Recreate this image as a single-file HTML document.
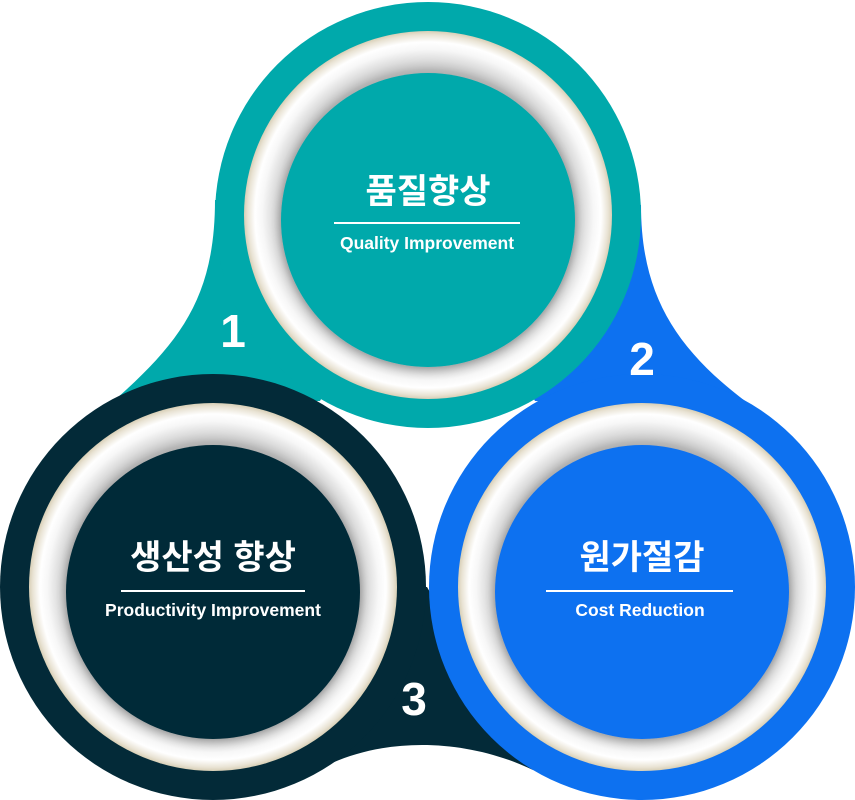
<!DOCTYPE html>
<html><head><meta charset="utf-8"><style>
html,body{margin:0;padding:0;background:#fff;}
svg{display:block;}
text{font-family:"Liberation Sans","Noto Sans CJK KR",sans-serif;fill:#fff;font-weight:bold;text-anchor:middle;}
</style></head><body>
<svg width="855" height="800" viewBox="0 0 855 800" xmlns="http://www.w3.org/2000/svg">
<defs>
<radialGradient id="ring" cx="0.5" cy="0.5" r="0.5">
<stop offset="0" stop-color="#bdbdbd"/>
<stop offset="0.79" stop-color="#bdbdbd"/>
<stop offset="0.84" stop-color="#dcdcdc"/>
<stop offset="0.9" stop-color="#f7f7f7"/>
<stop offset="0.94" stop-color="#ffffff"/>
<stop offset="0.98" stop-color="#e9e3d4"/>
<stop offset="1" stop-color="#d8cfb6"/>
</radialGradient>
<filter id="sh" x="-20%" y="-20%" width="140%" height="140%">
<feGaussianBlur in="SourceAlpha" stdDeviation="5"/>
<feOffset dy="3"/>
<feComponentTransfer><feFuncA type="linear" slope="0.3"/></feComponentTransfer>
<feMerge><feMergeNode/><feMergeNode in="SourceGraphic"/></feMerge>
</filter>
</defs>
<path d="M215,200 C215,300 178,345 108,406 L320,401 L428,215 Z" fill="#00a9ab"/>
<path d="M641,205 C641,300 680,355 760,412 L535,401 L428,215 Z" fill="#0d71f0"/>
<path d="M300,781 C365,735 460,735 533,770 L427,587 L213,587 Z" fill="#032a38"/>
<circle cx="428" cy="215" r="213" fill="#00a9ab"/>
<circle cx="642" cy="587" r="213" fill="#0d71f0"/>
<circle cx="213" cy="587" r="213" fill="#032a38"/>
<circle cx="428" cy="215" r="184" fill="url(#ring)"/>
<circle cx="428" cy="220" r="147" fill="#00a9ab" filter="url(#sh)"/>
<circle cx="642" cy="587" r="184" fill="url(#ring)"/>
<circle cx="642" cy="592" r="147" fill="#0d71f0" filter="url(#sh)"/>
<circle cx="213" cy="587" r="184" fill="url(#ring)"/>
<circle cx="213" cy="592" r="147" fill="#032a38" filter="url(#sh)"/>
<text x="428" y="203" font-size="34">품질향상</text>
<rect x="334" y="222" width="186" height="2" fill="#fff"/>
<text x="427" y="249" font-size="17.5">Quality Improvement</text>
<text x="213" y="569" font-size="34">생산성 향상</text>
<rect x="121" y="590" width="184" height="2" fill="#fff"/>
<text x="213" y="616" font-size="17.5">Productivity Improvement</text>
<text x="642" y="569" font-size="34">원가절감</text>
<rect x="546" y="590" width="187" height="2" fill="#fff"/>
<text x="640" y="616" font-size="17.5">Cost Reduction</text>
<text x="233" y="347" font-size="46" font-weight="normal">1</text>
<text x="642" y="375" font-size="46">2</text>
<text x="414" y="715" font-size="46">3</text>
</svg>
</body></html>
